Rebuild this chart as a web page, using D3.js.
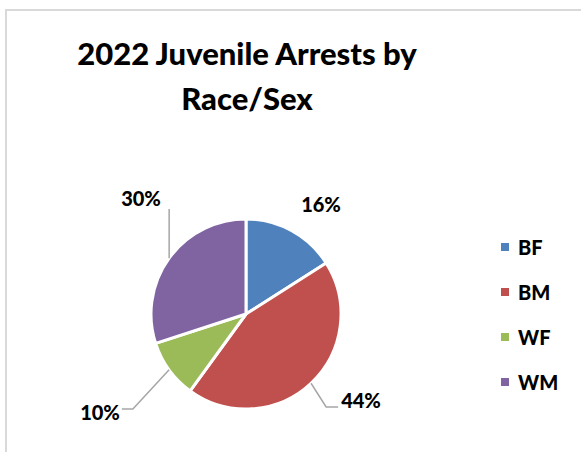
<!DOCTYPE html>
<html>
<head>
<meta charset="utf-8">
<script src="https://cdn.jsdelivr.net/npm/d3@7/dist/d3.min.js"></script>
<style>
  html, body { margin: 0; padding: 0; background: #fff; }
  svg { display: block; }
  text { font-family: Lato, "Open Sans", sans-serif; font-weight: 900; fill: #000; }
</style>
</head>
<body>
<svg id="chart" width="581" height="452"></svg>
<script>
// Share of 2022 juvenile arrests by race and sex (percent)
const categories = ["BF", "BM", "WF", "WM"];
const values = [16, 44, 10, 30];
const colors = ["#4F81BD", "#C0504D", "#9BBB59", "#8064A2"];
const titleLines = ["2022 Juvenile Arrests by", "Race/Sex"];

const W = 581, H = 452;
const svg = d3.select("#chart");

// chart area frame (light grey, open to the right and bottom)
svg.append("path")
  .attr("d", `M6,${H} V10 H${W}`)
  .attr("fill", "none")
  .attr("stroke", "#d9d9d9")
  .attr("stroke-width", 2);

// title
svg.append("text")
  .attr("x", 247).attr("y", 65)
  .attr("text-anchor", "middle")
  .style("font-size", "31px")
  .selectAll("tspan")
  .data(titleLines)
  .join("tspan")
  .attr("x", 247)
  .attr("dy", (d, i) => i === 0 ? 0 : 45)
  .text(d => d);

// pie
const cx = 246, cy = 314, R = 95;
const pie = d3.pie().sort(null).value(d => d.value);
const arcs = pie(categories.map((c, i) => ({ cat: c, value: values[i], color: colors[i] })));
const arc = d3.arc().innerRadius(0).outerRadius(R);

const g = svg.append("g").attr("transform", `translate(${cx},${cy})`);
g.selectAll("path.slice")
  .data(arcs)
  .join("path")
  .attr("class", "slice")
  .attr("d", arc)
  .attr("fill", d => d.data.color)
  .attr("stroke", "#fff")
  .attr("stroke-width", 3)
  .attr("stroke-linejoin", "round");

// data labels: offset of the label centre from the pie centre, plus leader-line shape
const labelLayout = {
  BF: { dx: 75, dy: -110, leader: null },
  BM: { dx: 115, dy: 86, leader: "left" },
  WF: { dx: -146, dy: 98, leader: "right" },
  WM: { dx: -105, dy: -116, leader: "down" }
};

const fmt = d => d3.format(".0f")(d) + "%";

arcs.forEach(a => {
  const L = labelLayout[a.data.cat];
  const mid = (a.startAngle + a.endAngle) / 2;
  const px = R * Math.sin(mid), py = -R * Math.cos(mid);
  const t = g.append("text")
    .attr("x", L.dx).attr("y", L.dy)
    .attr("text-anchor", "middle")
    .attr("dominant-baseline", "central")
    .style("font-size", "20px")
    .text(fmt(a.data.value));
  const bb = t.node().getBBox();
  let pts = null;
  if (L.leader === "left") {
    const ey = L.dy + 7;
    const ex = bb.x - 3;
    pts = [[px, py], [ex - 12, ey], [ex, ey]];
  } else if (L.leader === "right") {
    const ey = L.dy - 3;
    const ex = bb.x + bb.width + 2;
    pts = [[px, py], [ex + 11, ey], [ex, ey]];
  } else if (L.leader === "down") {
    pts = [[px, py], [px, bb.y + bb.height - 1]];
  }
  if (pts) {
    g.insert("path", "text")
      .attr("d", d3.line()(pts))
      .attr("fill", "none")
      .attr("stroke", "#a6a6a6")
      .attr("stroke-width", 1.5);
  }
});

// legend
const lg = svg.append("g").attr("transform", "translate(501,247)");
const item = lg.selectAll("g")
  .data(categories)
  .join("g")
  .attr("transform", (d, i) => `translate(0,${i * 45})`);
item.append("rect")
  .attr("x", 0).attr("y", -4)
  .attr("width", 8).attr("height", 8)
  .attr("fill", (d, i) => colors[i]);
item.append("text")
  .attr("x", 17).attr("y", 0)
  .attr("dominant-baseline", "central")
  .style("font-size", "20px")
  .text(d => d);
</script>
</body>
</html>
